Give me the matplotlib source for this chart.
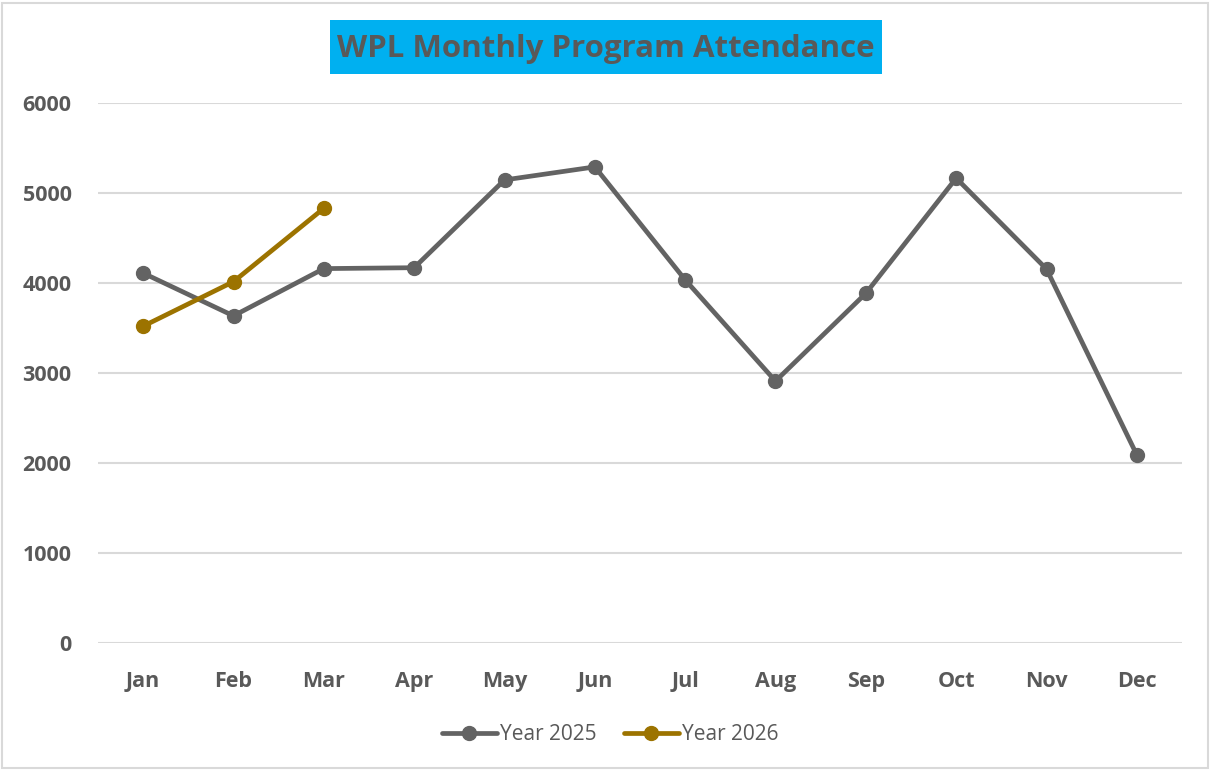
import numpy as np
import matplotlib.pyplot as plt
from matplotlib.patches import Rectangle

# data
months = ["Jan", "Feb", "Mar", "Apr", "May", "Jun",
          "Jul", "Aug", "Sep", "Oct", "Nov", "Dec"]
year_2025 = [4110, 3635, 4160, 4170, 5145, 5290,
             4035, 2910, 3885, 5165, 4155, 2090]
year_2026 = [3520, 4015, 4830]

grey = "#636363"
gold = "#9C7300"
text_col = "#595959"

plt.rcParams['font.family'] = ['Open Sans', 'DejaVu Sans']

fig = plt.figure(figsize=(12.11, 7.72), dpi=100)
W, H = 1211, 772
ax = fig.add_axes([98 / W, 1 - 643 / H, (1182 - 98) / W, (643 - 103) / H])

x = np.arange(len(months))
ax.plot(x, year_2025, color=grey, lw=3.4, marker='o', ms=10,
        label="Year 2025", solid_capstyle='round')
ax.plot(x[:len(year_2026)], year_2026, color=gold, lw=3.4, marker='o', ms=10,
        label="Year 2026", solid_capstyle='round')

ax.set_xlim(-0.5, 11.5)
ax.set_ylim(0, 6000)
ax.set_yticks(np.arange(0, 6001, 1000))
ax.set_xticks(x)
ax.set_xticklabels(months)
ax.tick_params(length=0, labelsize=15.5, labelcolor=text_col)
ax.tick_params(axis='x', pad=20)
ax.tick_params(axis='y', pad=19)
for lab in ax.get_xticklabels() + ax.get_yticklabels():
    lab.set_fontweight('bold')
ax.grid(axis='y', color='#d9d9d9', lw=1.5)
ax.set_axisbelow(True)
for sp in ax.spines.values():
    sp.set_visible(False)

# title with blue box behind it
fig.patches.append(Rectangle((330 / W, 1 - 74 / H), 552 / W, 54 / H,
                             transform=fig.transFigure, fc='#00B0F0', ec='none'))
fig.text(606 / W, 1 - 49 / H, "WPL Monthly Program Attendance",
         ha='center', va='center', fontsize=22.5, fontweight='bold', color=text_col)

leg = fig.legend(loc='center', bbox_to_anchor=(610 / W, 1 - 735 / H), ncol=2,
                 frameon=False, fontsize=15, handlelength=2.65,
                 handletextpad=0.15, columnspacing=1.3)
for t in leg.get_texts():
    t.set_color(text_col)

# outer border
fig.patches.append(Rectangle((2 / W, 4 / H), 1206 / W, 765 / H,
                             transform=fig.transFigure, fill=False,
                             ec='#d9d9d9', lw=1.5))

fig.savefig("out.png", dpi=100)
